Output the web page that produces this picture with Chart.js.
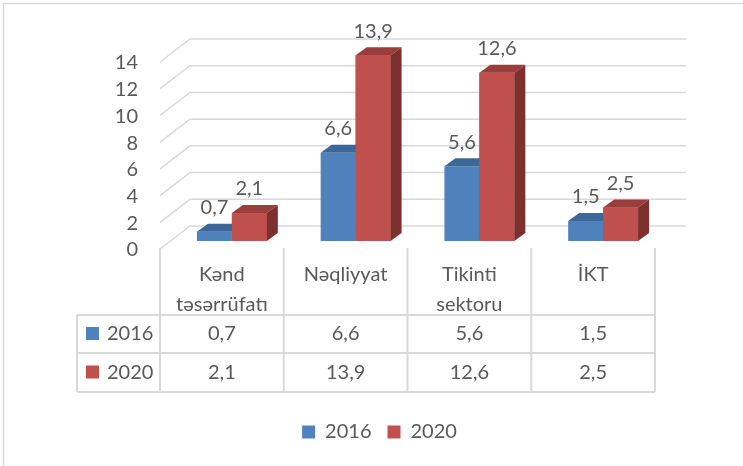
<!DOCTYPE html>
<html>
<head>
<meta charset="utf-8">
<script src="https://cdn.jsdelivr.net/npm/chart.js@4.4.1/dist/chart.umd.min.js"></script>
<style>
  html, body { margin: 0; padding: 0; background: #fff; }
  #wrap { width: 743px; height: 466px; position: relative; }
</style>
</head>
<body>
<div id="wrap"><canvas id="chart" width="743" height="466"></canvas></div>
<script>
// Data
const categories = [["Kənd", "təsərrüfatı"], "Nəqliyyat", ["Tikinti", "sektoru"], "İKT"];
const years = ["2016", "2020"];
const values2016 = [0.7, 6.6, 5.6, 1.5];
const values2020 = [2.1, 13.9, 12.6, 2.5];
const yTicks = [0, 2, 4, 6, 8, 10, 12, 14];

// Colours (Excel 2007 style 3D columns)
const frontColors = ["#4F81BD", "#C0504D"];
const topColors = ["#3D6797", "#9A3E3B"];
const sideColors = ["#35597F", "#7D302E"];
const textColor = "#595959";
const lineColor = "#d9d9d9";
const font = { family: "Lato", size: 20, lineHeight: 1.5 };

const fmt = (v) => v.toFixed(1).replace(".", ",");

// Outer frame + back/left walls with the gridlines
const wallsPlugin = {
  id: "walls",
  beforeDraw(chart) {
    const ctx = chart.ctx;
    ctx.save();
    ctx.strokeStyle = lineColor;
    ctx.lineWidth = 1.5;
    ctx.beginPath();
    ctx.moveTo(3.5, chart.height);
    ctx.lineTo(3.5, 3.5);
    ctx.lineTo(chart.width, 3.5);
    ctx.stroke();
    ctx.restore();
  },
  beforeDatasetsDraw(chart) {
    const { ctx, chartArea, scales: { y } } = chart;
    ctx.save();
    ctx.strokeStyle = lineColor;
    ctx.lineWidth = 1.5;
    yTicks.forEach((v) => {
      const py = y.getPixelForValue(v);
      ctx.beginPath();
      ctx.moveTo(chartArea.left - 10, py + 8);
      ctx.lineTo(chartArea.left + 20, py - 15);
      ctx.lineTo(chartArea.right + 21, py - 15);
      ctx.stroke();
    });
    ctx.restore();
  },
};

// Top and side faces of the columns, drawn front to back per category
const boxPlugin = {
  id: "box3d",
  afterDatasetsDraw(chart) {
    const ctx = chart.ctx;
    const metas = years.map((yr, d) => chart.getDatasetMeta(d));
    ctx.save();
    categories.forEach((c, i) => {
      metas.forEach((meta, d) => {
        const bar = meta.data[i];
        if (d > 0) bar.draw(ctx);
        const { x, y, base, width } = bar.getProps(["x", "y", "base", "width"], true);
        const l = x - width / 2;
        const r = x + width / 2;
        ctx.fillStyle = topColors[d];
        ctx.beginPath();
        ctx.moveTo(l, y);
        ctx.lineTo(r, y);
        ctx.lineTo(r + 11, y - 8);
        ctx.lineTo(l + 11, y - 8);
        ctx.closePath();
        ctx.fill();
        ctx.fillStyle = sideColors[d];
        ctx.beginPath();
        ctx.moveTo(r, y);
        ctx.lineTo(r + 11, y - 8);
        ctx.lineTo(r + 11, base - 8);
        ctx.lineTo(r, base);
        ctx.closePath();
        ctx.fill();
      });
    });
    ctx.restore();
  },
};

// Value labels above columns and the data table under the axis
const tablePlugin = {
  id: "table",
  afterDraw(chart) {
    const { ctx, scales: { x, y } } = chart;
    ctx.save();
    ctx.font = font.size + "px " + font.family;
    ctx.fillStyle = textColor;
    ctx.textAlign = "center";
    ctx.textBaseline = "middle";

    // labels above bars
    chart.data.datasets.forEach((ds, d) => {
      chart.getDatasetMeta(d).data.forEach((bar, i) => {
        ctx.fillText(fmt(ds.data[i]), bar.x, bar.y - 24);
      });
    });

    // table grid
    const floor = y.getPixelForValue(0) + 8;
    const step = x.getPixelForValue(1) - x.getPixelForValue(0);
    const edges = categories.map((c, i) => x.getPixelForValue(i) - 10 - step / 2);
    edges.push(edges[edges.length - 1] + step);
    const rows = [floor + 66, floor + 104, floor + 143];
    const left = 77;
    const right = edges[edges.length - 1];

    ctx.strokeStyle = lineColor;
    ctx.lineWidth = 2;
    ctx.beginPath();
    edges.forEach((ex) => {
      ctx.moveTo(ex, floor - 1);
      ctx.lineTo(ex, rows[2]);
    });
    ctx.moveTo(left, rows[0]);
    ctx.lineTo(left, rows[2]);
    rows.forEach((ry) => {
      ctx.moveTo(left, ry);
      ctx.lineTo(right, ry);
    });
    ctx.stroke();

    // table rows
    chart.data.datasets.forEach((ds, d) => {
      const cy = (rows[d] + rows[d + 1]) / 2;
      ctx.fillStyle = frontColors[d];
      ctx.fillRect(86, cy - 7, 13, 13);
      ctx.fillStyle = textColor;
      ctx.textAlign = "left";
      ctx.fillText(ds.label, 107, cy);
      ctx.textAlign = "center";
      ds.data.forEach((v, i) => {
        ctx.fillText(fmt(v), (edges[i] + edges[i + 1]) / 2, cy);
      });
    });
    ctx.restore();
  },
};

new Chart(document.getElementById("chart"), {
  type: "bar",
  data: {
    labels: categories,
    datasets: [
      { label: years[0], data: values2016, backgroundColor: frontColors[0] },
      { label: years[1], data: values2020, backgroundColor: frontColors[1] },
    ],
  },
  options: {
    responsive: false,
    animation: false,
    barPercentage: 1,
    categoryPercentage: 0.565,
    layout: { padding: { top: 54, right: 0, left: 16, bottom: 14 } },
    plugins: {
      legend: {
        position: "bottom",
        labels: { boxWidth: 13, boxHeight: 13, padding: 16, color: textColor, font: font },
      },
      tooltip: { enabled: false },
    },
    scales: {
      x: {
        grid: { display: false, drawTicks: false },
        border: { display: false },
        ticks: { color: textColor, font: font, padding: 19, labelOffset: -10, maxRotation: 0, autoSkip: false },
        afterFit: (s) => { s.height = 165; },
      },
      y: {
        min: 0,
        max: 14,
        grid: { display: false, drawTicks: false },
        border: { display: false },
        ticks: { stepSize: 2, autoSkip: false, color: textColor, font: font, padding: 32, labelOffset: 9 },
        afterFit: (s) => { s.width = 154; },
      },
      // empty right-hand box so the plot ends where the reference does
      spacer: {
        position: "right",
        grid: { display: false, drawTicks: false },
        border: { display: false },
        ticks: { display: false },
        afterFit: (s) => { s.width = 78; },
      },
    },
  },
  plugins: [wallsPlugin, boxPlugin, tablePlugin],
});
</script>
</body>
</html>
